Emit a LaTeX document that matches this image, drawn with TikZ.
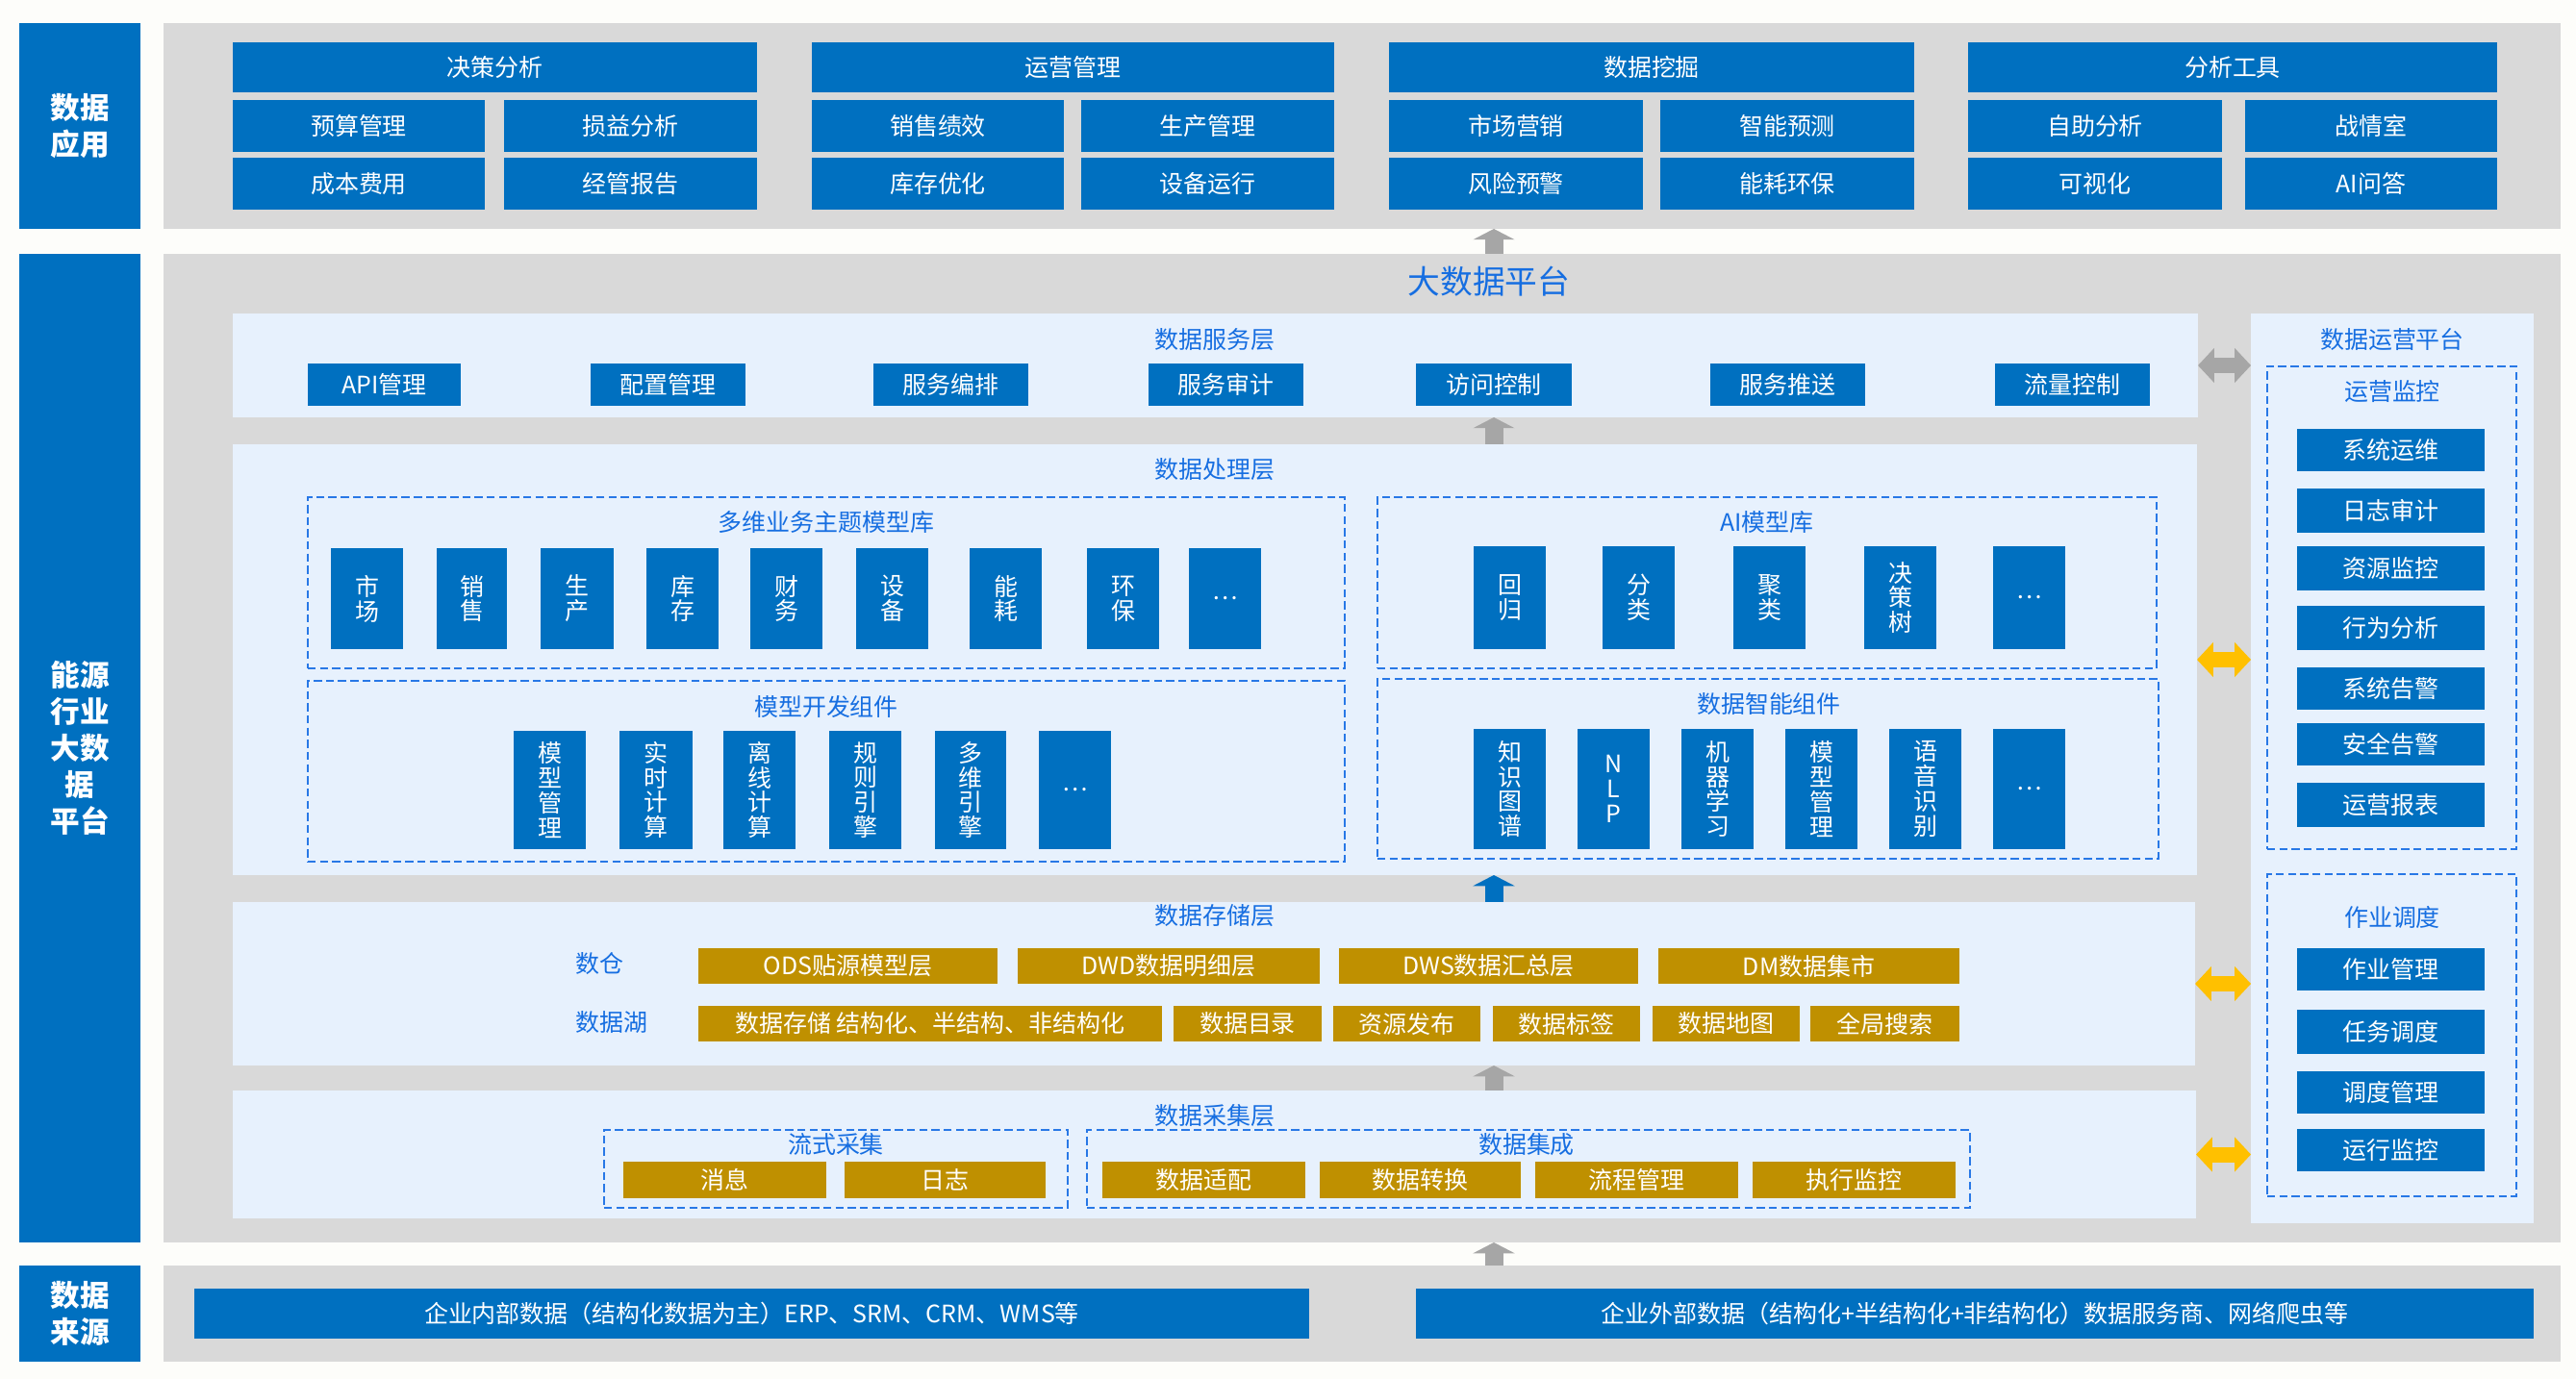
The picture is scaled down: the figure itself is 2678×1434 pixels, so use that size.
\documentclass[tikz,border=0pt]{standalone}
\usepackage{fontspec}
\setmainfont{Noto Sans CJK SC}
\usetikzlibrary{arrows.meta}
\definecolor{cblue}{RGB}{0,112,192}
\definecolor{cgrey}{RGB}{217,217,217}
\definecolor{clight}{RGB}{231,241,253}
\definecolor{cgold}{RGB}{191,144,0}
\definecolor{ctitle}{RGB}{22,110,225}
\definecolor{cdash}{RGB}{40,120,230}
\definecolor{cyel}{RGB}{255,192,0}
\definecolor{carrow}{RGB}{166,166,166}
\definecolor{cbg}{RGB}{253,253,250}
\newcommand\mkbox[7]{\node[#1,minimum width={(#5-#3)*0.01cm},minimum height={(#6-#4)*0.01cm}] (#2) at ({(#3+#5)/2},{(#4+#6)/2}) {#7};}
\tikzset{
  base/.style={rectangle,inner sep=0pt,outer sep=0pt},
  panel/.style={base,fill=cgrey},
  lightp/.style={base,fill=clight},
  lbl/.style={base,fill=cblue,text=white,align=center,font=\fontsize{8.7pt}{10.8pt}\selectfont\bfseries},
  btn/.style={base,fill=cblue,text=white,font=\fontsize{7.1pt}{8.5pt}\selectfont},
  vbtn/.style={base,fill=cblue,text=white,align=center,font=\fontsize{7.1pt}{7.35pt}\selectfont},
  gbtn/.style={base,fill=cgold,text=white,font=\fontsize{7.1pt}{8.5pt}\selectfont},
  grp/.style={base,draw=cdash,line width=0.5pt,dash pattern=on 2.4pt off 1.2pt},
  ttl/.style={inner sep=0pt,text=ctitle,font=\fontsize{7.1pt}{8.5pt}\selectfont},
  bigttl/.style={inner sep=0pt,text=ctitle,font=\fontsize{9.6pt}{11pt}\selectfont},
  uparr/.style={draw=carrow,line width=5.4pt,-{Triangle[width=12.2pt,length=3.2pt]}},
  dblarr/.style={draw=carrow,line width=4.55pt,{Triangle[width=10pt,length=4.8pt]}-{Triangle[width=10pt,length=4.8pt]}},
}
\begin{document}
\begin{tikzpicture}[x=0.01cm,y=-0.01cm]
\fill[cbg] (0,0) rectangle (2678,1434);
\useasboundingbox (0,0) rectangle (2678,1434);
\coordinate (ax) at (1553,0);
% ===== data application =====
\mkbox{lbl}{appL}{20}{24}{146}{238}{数据\\应用}
\mkbox{panel}{appP}{170}{24}{2662}{238}{}
\mkbox{btn}{a1}{242}{44}{787}{96}{决策分析}
\mkbox{btn}{a11}{242}{104}{504}{158}{预算管理}
\mkbox{btn}{a12}{524}{104}{787}{158}{损益分析}
\mkbox{btn}{a13}{242}{164}{504}{218}{成本费用}
\mkbox{btn}{a14}{524}{164}{787}{218}{经管报告}
\mkbox{btn}{a2}{844}{44}{1387}{96}{运营管理}
\mkbox{btn}{a21}{844}{104}{1106}{158}{销售绩效}
\mkbox{btn}{a22}{1124}{104}{1387}{158}{生产管理}
\mkbox{btn}{a23}{844}{164}{1106}{218}{库存优化}
\mkbox{btn}{a24}{1124}{164}{1387}{218}{设备运行}
\mkbox{btn}{a3}{1444}{44}{1990}{96}{数据挖掘}
\mkbox{btn}{a31}{1444}{104}{1708}{158}{市场营销}
\mkbox{btn}{a32}{1726}{104}{1990}{158}{智能预测}
\mkbox{btn}{a33}{1444}{164}{1708}{218}{风险预警}
\mkbox{btn}{a34}{1726}{164}{1990}{218}{能耗环保}
\mkbox{btn}{a4}{2046}{44}{2596}{96}{分析工具}
\mkbox{btn}{a41}{2046}{104}{2310}{158}{自助分析}
\mkbox{btn}{a42}{2334}{104}{2596}{158}{战情室}
\mkbox{btn}{a43}{2046}{164}{2310}{218}{可视化}
\mkbox{btn}{a44}{2334}{164}{2596}{218}{AI问答}
% ===== platform =====
\mkbox{lbl}{platL}{20}{264}{146}{1292}{能源\\行业\\大数\\据\\平台}
\mkbox{panel}{platP}{170}{264}{2662}{1292}{}
\node[bigttl] (ptitle) at (1548,293) {大数据平台};
% service layer
\mkbox{lightp}{svc}{242}{326}{2285}{434}{}
\node[ttl] (svct) at (1263,353) {数据服务层};
\mkbox{btn}{s1}{320}{378}{479}{422}{API管理}
\mkbox{btn}{s2}{614}{378}{775}{422}{配置管理}
\mkbox{btn}{s3}{908}{378}{1069}{422}{服务编排}
\mkbox{btn}{s4}{1194}{378}{1355}{422}{服务审计}
\mkbox{btn}{s5}{1472}{378}{1634}{422}{访问控制}
\mkbox{btn}{s6}{1778}{378}{1939}{422}{服务推送}
\mkbox{btn}{s7}{2074}{378}{2235}{422}{流量控制}
% processing layer
\mkbox{lightp}{proc}{242}{462}{2284}{910}{}
\node[ttl] (proct) at (1263,488) {数据处理层};
\mkbox{grp}{g1}{320}{517}{1398}{695}{}
\node[ttl] (g1t) at (859,543) {多维业务主题模型库};
\mkbox{vbtn}{m1}{344}{570}{419}{675}{市\\场}
\mkbox{vbtn}{m2}{454}{570}{527}{675}{销\\售}
\mkbox{vbtn}{m3}{562}{570}{638}{675}{生\\产}
\mkbox{vbtn}{m4}{672}{570}{747}{675}{库\\存}
\mkbox{vbtn}{m5}{780}{570}{855}{675}{财\\务}
\mkbox{vbtn}{m6}{890}{570}{965}{675}{设\\备}
\mkbox{vbtn}{m7}{1008}{570}{1083}{675}{能\\耗}
\mkbox{vbtn}{m8}{1130}{570}{1205}{675}{环\\保}
\mkbox{vbtn}{m9}{1236}{570}{1311}{675}{…}
\mkbox{grp}{g2}{320}{708}{1398}{896}{}
\node[ttl] (g2t) at (859,735) {模型开发组件};
\mkbox{vbtn}{d1}{534}{760}{609}{883}{模\\型\\管\\理}
\mkbox{vbtn}{d2}{644}{760}{720}{883}{实\\时\\计\\算}
\mkbox{vbtn}{d3}{752}{760}{827}{883}{离\\线\\计\\算}
\mkbox{vbtn}{d4}{862}{760}{937}{883}{规\\则\\引\\擎}
\mkbox{vbtn}{d5}{972}{760}{1046}{883}{多\\维\\引\\擎}
\mkbox{vbtn}{d6}{1080}{760}{1155}{883}{…}
\mkbox{grp}{g3}{1432}{517}{2242}{695}{}
\node[ttl] (g3t) at (1837,543) {AI模型库};
\mkbox{vbtn}{i1}{1532}{568}{1607}{675}{回\\归}
\mkbox{vbtn}{i2}{1666}{568}{1741}{675}{分\\类}
\mkbox{vbtn}{i3}{1802}{568}{1877}{675}{聚\\类}
\mkbox{vbtn}{i4}{1938}{568}{2013}{675}{决\\策\\树}
\mkbox{vbtn}{i5}{2072}{568}{2147}{675}{…}
\mkbox{grp}{g4}{1432}{706}{2244}{893}{}
\node[ttl] (g4t) at (1839,732) {数据智能组件};
\mkbox{vbtn}{k1}{1532}{758}{1607}{883}{知\\识\\图\\谱}
\mkbox{vbtn}{k2}{1640}{758}{1715}{883}{N\\L\\P}
\mkbox{vbtn}{k3}{1748}{758}{1823}{883}{机\\器\\学\\习}
\mkbox{vbtn}{k4}{1856}{758}{1931}{883}{模\\型\\管\\理}
\mkbox{vbtn}{k5}{1964}{758}{2039}{883}{语\\音\\识\\别}
\mkbox{vbtn}{k6}{2072}{758}{2147}{883}{…}
% storage layer
\mkbox{lightp}{store}{242}{938}{2282}{1108}{}
\node[ttl] (storet) at (1263,952) {数据存储层};
\node[ttl,anchor=west] (dw) at (598,1002) {数仓};
\node[ttl,anchor=west] (dl) at (598,1063) {数据湖};
\mkbox{gbtn}{w1}{726}{986}{1037}{1023}{ODS贴源模型层}
\mkbox{gbtn}{w2}{1058}{986}{1372}{1023}{DWD数据明细层}
\mkbox{gbtn}{w3}{1392}{986}{1703}{1023}{DWS数据汇总层}
\mkbox{gbtn}{w4}{1724}{986}{2037}{1023}{DM数据集市}
\mkbox{gbtn}{l1}{726}{1046}{1208}{1083}{数据存储 结构化、半结构、非结构化}
\mkbox{gbtn}{l2}{1220}{1046}{1374}{1083}{数据目录}
\mkbox{gbtn}{l3}{1386}{1046}{1539}{1083}{资源发布}
\mkbox{gbtn}{l4}{1552}{1046}{1705}{1083}{数据标签}
\mkbox{gbtn}{l5}{1718}{1046}{1871}{1083}{数据地图}
\mkbox{gbtn}{l6}{1882}{1046}{2037}{1083}{全局搜索}
% collection layer
\mkbox{lightp}{coll}{242}{1134}{2283}{1267}{}
\node[ttl] (collt) at (1263,1160) {数据采集层};
\mkbox{grp}{g5}{628}{1175}{1110}{1256}{}
\node[ttl] (g5t) at (869,1190) {流式采集};
\mkbox{gbtn}{c1}{648}{1208}{859}{1246}{消息}
\mkbox{gbtn}{c2}{878}{1208}{1087}{1246}{日志}
\mkbox{grp}{g6}{1130}{1175}{2048}{1256}{}
\node[ttl] (g6t) at (1587,1190) {数据集成};
\mkbox{gbtn}{c3}{1146}{1208}{1357}{1246}{数据适配}
\mkbox{gbtn}{c4}{1372}{1208}{1581}{1246}{数据转换}
\mkbox{gbtn}{c5}{1596}{1208}{1807}{1246}{流程管理}
\mkbox{gbtn}{c6}{1822}{1208}{2033}{1246}{执行监控}
% operations platform
\mkbox{lightp}{ops}{2340}{326}{2634}{1272}{}
\node[ttl] (opst) at (2487,353) {数据运营平台};
\mkbox{grp}{g7}{2357}{381}{2616}{883}{}
\node[ttl] (g7t) at (2487,407) {运营监控};
\mkbox{btn}{o1}{2388}{446}{2583}{490}{系统运维}
\mkbox{btn}{o2}{2388}{508}{2583}{554}{日志审计}
\mkbox{btn}{o3}{2388}{568}{2583}{614}{资源监控}
\mkbox{btn}{o4}{2388}{630}{2583}{676}{行为分析}
\mkbox{btn}{o5}{2388}{694}{2583}{738}{系统告警}
\mkbox{btn}{o6}{2388}{752}{2583}{796}{安全告警}
\mkbox{btn}{o7}{2388}{814}{2583}{860}{运营报表}
\mkbox{grp}{g8}{2357}{909}{2616}{1244}{}
\node[ttl] (g8t) at (2487,954) {作业调度};
\mkbox{btn}{j1}{2388}{986}{2583}{1030}{作业管理}
\mkbox{btn}{j2}{2388}{1050}{2583}{1096}{任务调度}
\mkbox{btn}{j3}{2388}{1114}{2583}{1158}{调度管理}
\mkbox{btn}{j4}{2388}{1174}{2583}{1218}{运行监控}
% ===== data source =====
\mkbox{lbl}{srcL}{20}{1316}{146}{1416}{数据\\来源}
\mkbox{panel}{srcP}{170}{1316}{2662}{1416}{}
\mkbox{btn}{src1}{202}{1340}{1361}{1392}{企业内部数据（结构化数据为主）ERP、SRM、CRM、WMS等}
\mkbox{btn}{src2}{1472}{1340}{2634}{1392}{企业外部数据（结构化+半结构化+非结构化）数据服务商、网络爬虫等}
% ===== arrows =====
\draw[uparr] (platP.north -| ax) -- (appP.south -| ax);
\draw[uparr] (proc.north -| ax) -- (svc.south -| ax);
\draw[uparr,draw=cblue] (store.north -| ax) -- (proc.south -| ax);
\draw[uparr] (coll.north -| ax) -- (store.south -| ax);
\draw[uparr] (srcP.north -| ax) -- (platP.south -| ax);
\draw[dblarr] (svc.east) -- (svc.east -| ops.west);
\draw[dblarr,draw=cyel] (proc.east) -- (proc.east -| ops.west);
\draw[dblarr,draw=cyel] (store.east) -- (store.east -| ops.west);
\draw[dblarr,draw=cyel] (coll.east) -- (coll.east -| ops.west);
\end{tikzpicture}
\end{document}
